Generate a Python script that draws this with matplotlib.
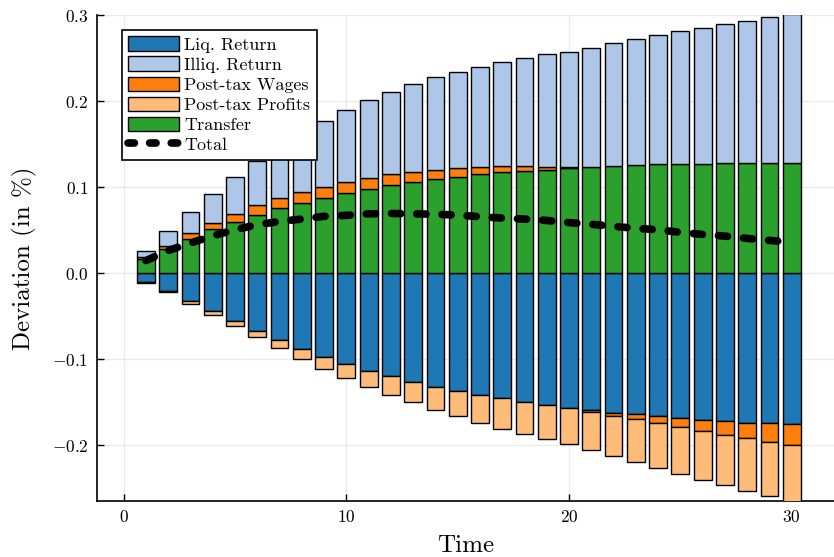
import numpy as np
import matplotlib
matplotlib.use("Agg")
import matplotlib.pyplot as plt
from matplotlib.lines import Line2D
from matplotlib.ticker import FuncFormatter, FixedLocator

plt.rcParams["font.family"] = ["cmr10"]
plt.rcParams["mathtext.fontset"] = "cm"
plt.rcParams["axes.formatter.use_mathtext"] = True
plt.rcParams["axes.unicode_minus"] = True

# Decomposition of the deviation by period
time = np.arange(1, 31)

liq_return = [-0.0105, -0.0210, -0.0322, -0.0442, -0.0562, -0.0671, -0.0776, -0.0877,
              -0.0970, -0.1055, -0.1133, -0.1194, -0.1264, -0.1322, -0.1369, -0.1415,
              -0.1457, -0.1496, -0.1531, -0.1566, -0.1593, -0.1624, -0.1643, -0.1663,
              -0.1682, -0.1706, -0.1721, -0.1741, -0.1748, -0.1759]
illiq_return = [0.0078, 0.0168, 0.0241, 0.0334, 0.0430, 0.0520, 0.0601, 0.0683,
                0.0770, 0.0835, 0.0903, 0.0961, 0.1023, 0.1076, 0.1124, 0.1162,
                0.1206, 0.1257, 0.1312, 0.1345, 0.1386, 0.1423, 0.1461, 0.1508,
                0.1539, 0.1581, 0.1624, 0.1655, 0.1694, 0.1736]
wages = [0.0019, 0.0036, 0.0067, 0.0076, 0.0093, 0.0112, 0.0121, 0.0128,
         0.0124, 0.0128, 0.0128, 0.0124, 0.0112, 0.0110, 0.0097, 0.0086,
         0.0070, 0.0050, 0.0030, 0.0005, -0.0020, -0.0035, -0.0057, -0.0085,
         -0.0109, -0.0131, -0.0159, -0.0181, -0.0213, -0.0238]
profits = [-0.0010, -0.0015, -0.0035, -0.0046, -0.0054, -0.0073, -0.0096, -0.0120,
           -0.0140, -0.0167, -0.0186, -0.0221, -0.0240, -0.0268, -0.0298, -0.0325,
           -0.0353, -0.0373, -0.0400, -0.0420, -0.0442, -0.0468, -0.0497, -0.0519,
           -0.0546, -0.0566, -0.0589, -0.0609, -0.0636, -0.0660]
transfer = [0.0163, 0.0283, 0.0398, 0.0512, 0.0597, 0.0674, 0.0751, 0.0814,
            0.0876, 0.0930, 0.0977, 0.1023, 0.1058, 0.1088, 0.1120, 0.1147,
            0.1174, 0.1190, 0.1201, 0.1223, 0.1236, 0.1248, 0.1256, 0.1263,
            0.1271, 0.1271, 0.1275, 0.1279, 0.1283, 0.1280]

labels = ["Liq. Return", "Illiq. Return", "Post-tax Wages", "Post-tax Profits", "Transfer"]
colors = ["#1f77b4", "#aec7e8", "#ff7f0e", "#ffbb78", "#2ca02c"]
series = [liq_return, illiq_return, wages, profits, transfer]

total = np.sum(np.array(series), axis=0)

fig = plt.figure(figsize=(8.34, 5.57), dpi=100)
ax = fig.add_axes([0.1163, 0.1005, 0.8837, 0.8725])

# stacking order away from zero (positives and negatives stacked separately)
stack_order = [0, 4, 2, 1, 3]
pos_base = np.zeros(len(time))
neg_base = np.zeros(len(time))
handles = {}
for i in stack_order:
    vals = np.array(series[i])
    bottoms = np.where(vals >= 0, pos_base, neg_base)
    h = ax.bar(time, vals, bottom=bottoms, width=0.8, color=colors[i],
               edgecolor="black", linewidth=1.0, zorder=3, label=labels[i])
    handles[i] = h
    pos_base = pos_base + np.where(vals >= 0, vals, 0)
    neg_base = neg_base + np.where(vals < 0, vals, 0)

line, = ax.plot(time, total, color="black", linewidth=5.5,
                linestyle=(0, (1.2, 2.1)), dash_capstyle="round",
                zorder=4, label="Total")

ax.set_xlim(-1.2, 31.9)
ax.set_ylim(-0.265, 0.3)
ax.xaxis.set_major_locator(FixedLocator([0, 10, 20, 30]))
ax.yaxis.set_major_locator(FixedLocator([-0.2, -0.1, 0.0, 0.1, 0.2, 0.3]))
ax.yaxis.set_major_formatter(FuncFormatter(lambda v, p: f"${v:.1f}$"))
ax.xaxis.set_major_formatter(FuncFormatter(lambda v, p: f"${v:.0f}$"))

ax.grid(True, color="black", alpha=0.08, linewidth=1.0, zorder=0)
ax.set_axisbelow(True)
for s in ["top", "right"]:
    ax.spines[s].set_visible(False)
for s in ["left", "bottom"]:
    ax.spines[s].set_linewidth(1.2)
ax.tick_params(direction="in", length=5, width=1.0, labelsize=12.5, pad=6)

ax.set_xlabel("Time", fontsize=18, labelpad=7)
ax.set_ylabel("Deviation (in %)", fontsize=18, labelpad=11)

# legend key for the total: shorter dashes so three fit in the key
total_key = Line2D([], [], color="black", linewidth=5.5,
                   linestyle=(0, (0.84, 1.99)), dash_capstyle="round")
leg_handles = [handles[i] for i in range(5)] + [total_key]
leg = ax.legend(leg_handles, labels + ["Total"], loc="upper left",
                bbox_to_anchor=(0.034, 0.969), borderaxespad=0, fontsize=13,
                fancybox=False, framealpha=1, edgecolor="black",
                handlelength=2.8, handleheight=0.85, labelspacing=0.2,
                handletextpad=0.3, borderpad=0.35)
leg.get_frame().set_linewidth(1.2)
leg.set_zorder(10)

fig.savefig("out.png", dpi=100)
